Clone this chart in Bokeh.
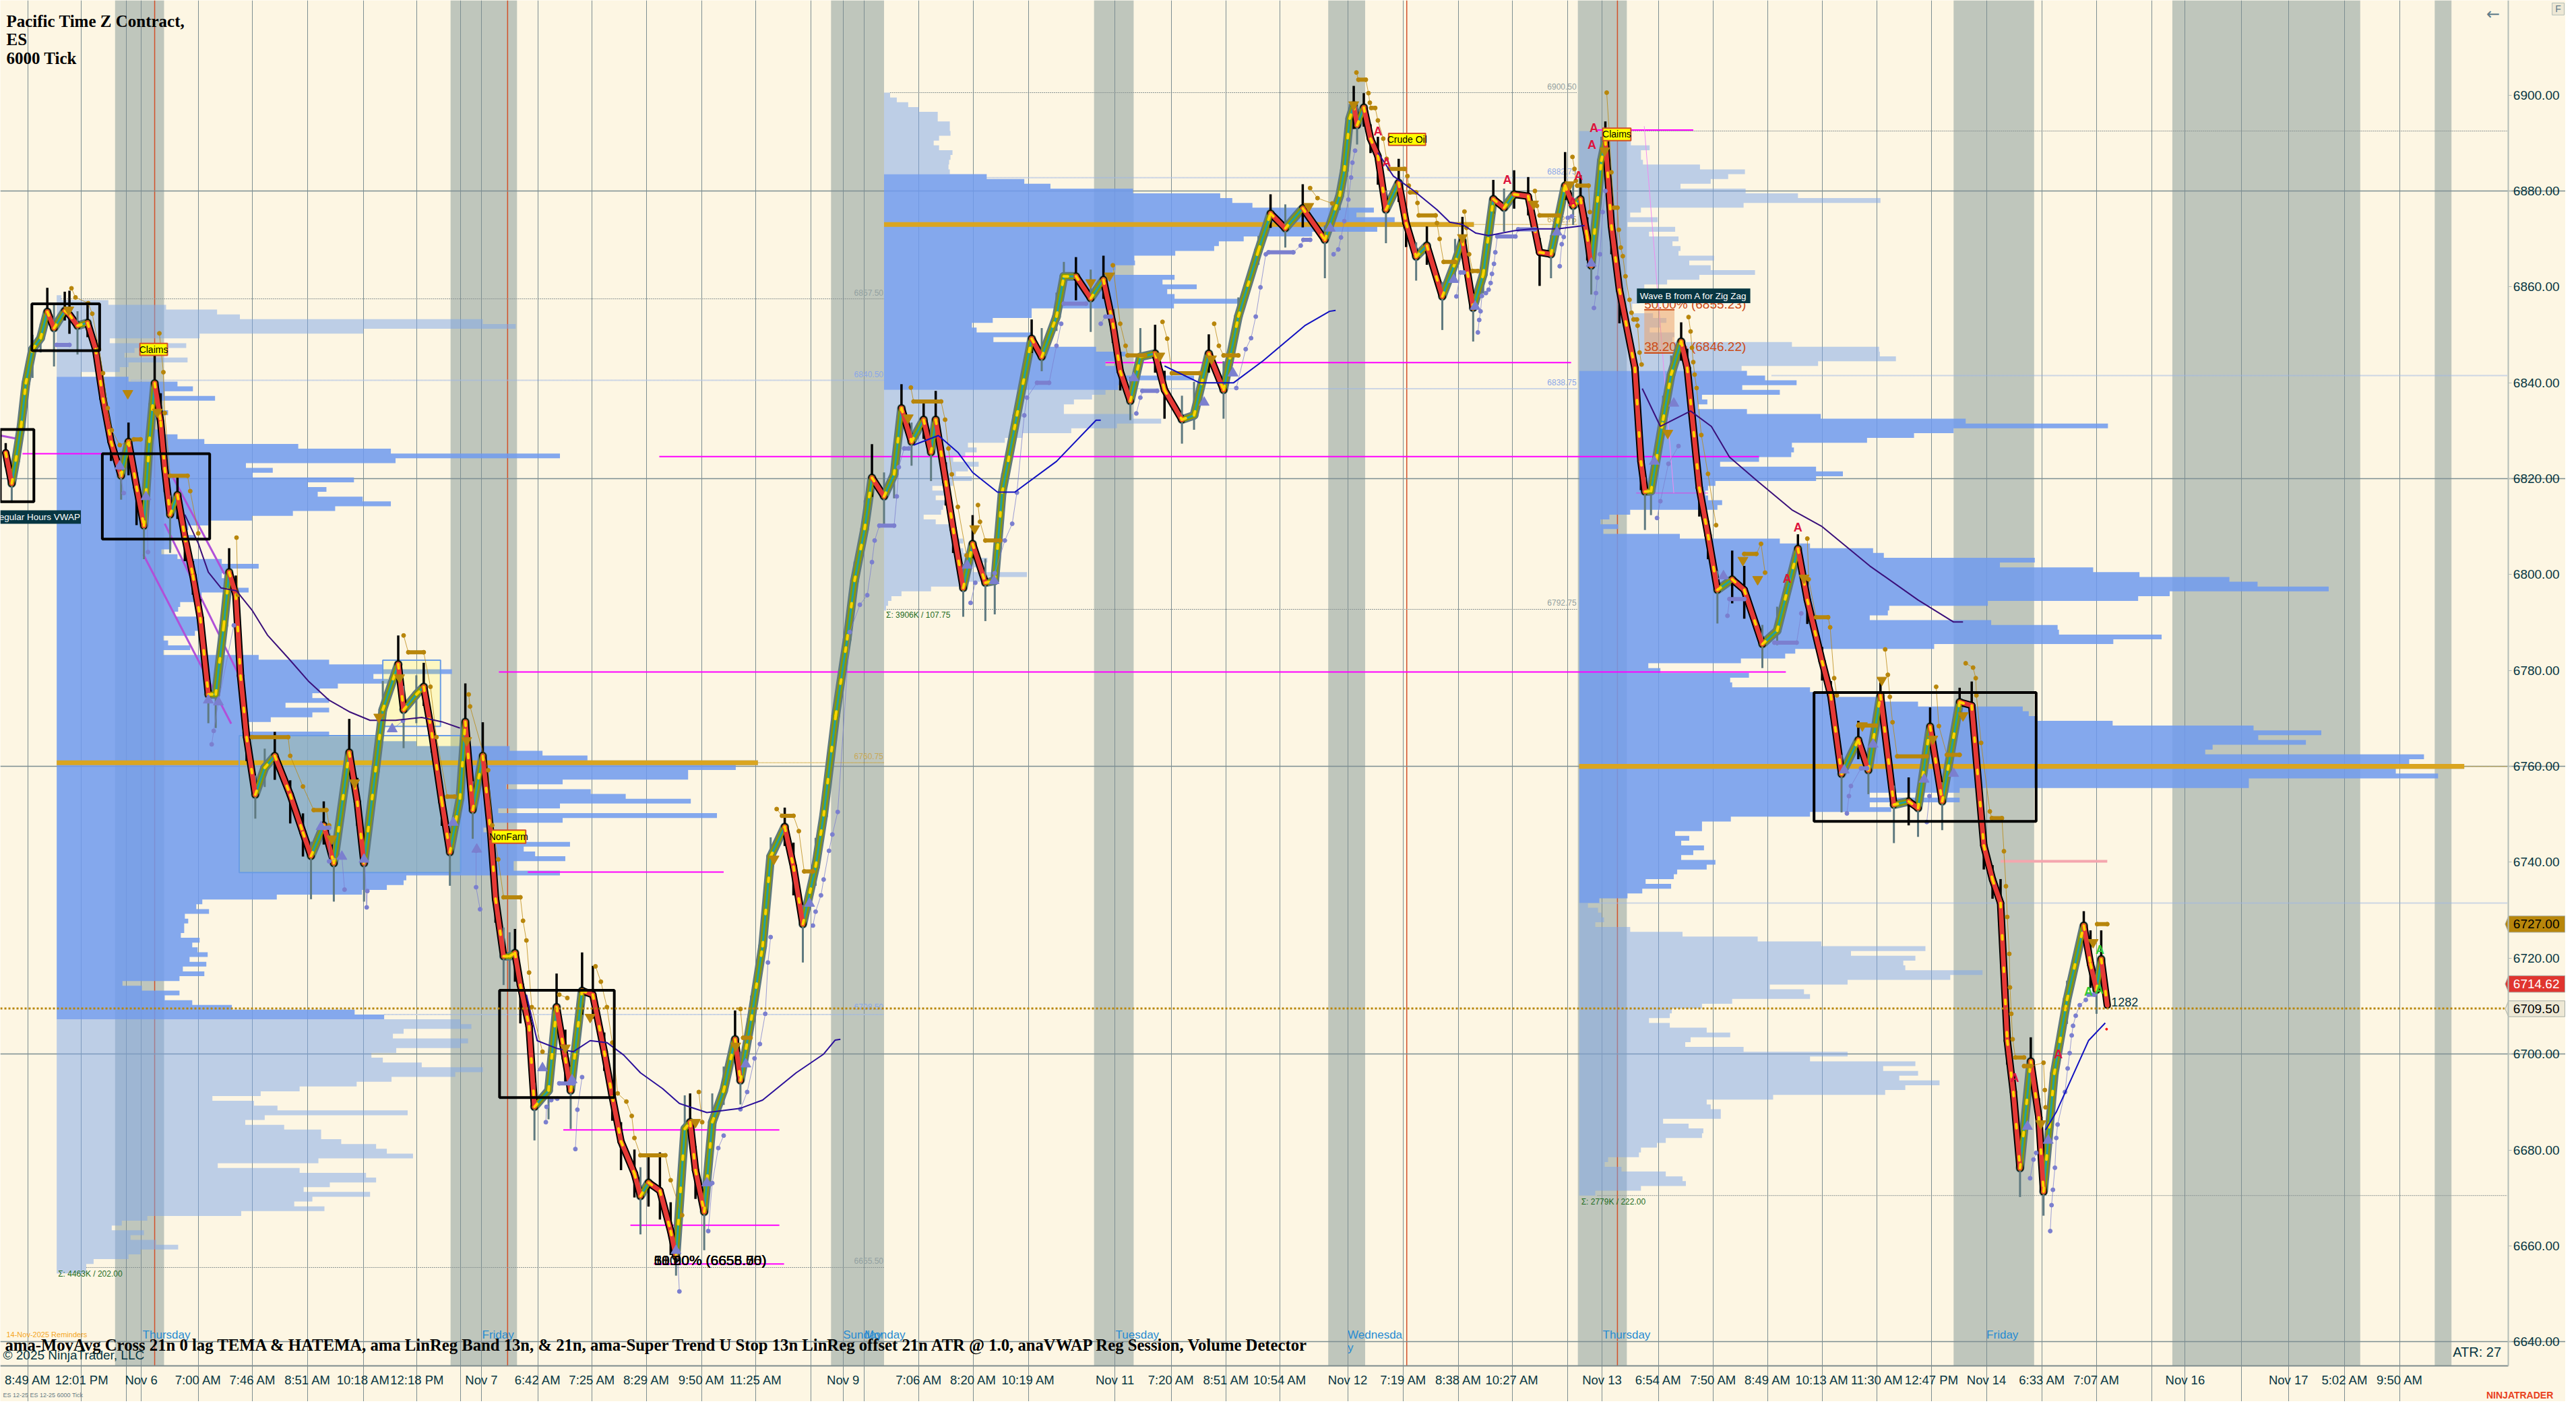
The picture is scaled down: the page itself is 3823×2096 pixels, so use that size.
from bokeh.plotting import figure
from bokeh.embed import file_html
from bokeh.resources import INLINE
from bokeh.core.properties import value
from bokeh.models import FixedTicker, Label, NumeralTickFormatter, Range1d

BG = "#FDF6E3"
INK = "#073642"
SANS = "Liberation Sans"
SERIF = "Liberation Serif"

# ---------- axes ----------
x_tick_labels = {
    41: "8:49 AM", 121: "12:01 PM", 210: "Nov 6", 295: "7:00 AM", 376: "7:46 AM", 458: "8:51 AM",
    541: "10:18 AM", 621: "12:18 PM", 717: "Nov 7", 801: "6:42 AM", 882: "7:25 AM", 963: "8:29 AM",
    1045: "9:50 AM", 1126: "11:25 AM", 1256: "Nov 9", 1369: "7:06 AM", 1450: "8:20 AM", 1532: "10:19 AM",
    1661: "Nov 11", 1745: "7:20 AM", 1827: "8:51 AM", 1907: "10:54 AM", 2008: "Nov 12", 2091: "7:19 AM",
    2173: "8:38 AM", 2253: "10:27 AM", 2387: "Nov 13", 2471: "6:54 AM", 2553: "7:50 AM", 2634: "8:49 AM",
    2715: "10:13 AM", 2797: "11:30 AM", 2878: "12:47 PM", 2960: "Nov 14", 3043: "6:33 AM", 3124: "7:07 AM",
    3256: "Nov 16", 3410: "Nov 17", 3494: "5:02 AM", 3576: "9:50 AM",
}
x_unlabelled_ticks = [188, 686, 1208, 1287, 2336, 3206, 3340]
y_label_ticks = [6640, 6660, 6680, 6700, 6720, 6740, 6760, 6780, 6800, 6820, 6840, 6860, 6880, 6900]
y_grid_ticks = [6640, 6700, 6760, 6820, 6880]
session_bands = [(171, 244), (671, 770), (1238, 1317), (1630, 1689), (1979, 2034), (2351, 2424),
                 (2911, 3031), (3237, 3517), (3628, 3653)]
event_lines = [230, 756, 2096, 2410]

# ---------- bars ----------
bar_x = [
    8, 17, 23, 31, 38, 48, 60, 70, 80, 96,
    103, 115, 130, 142, 153, 165, 180, 191, 203, 214,
    222, 230, 239, 245, 253, 264, 275, 287, 298, 310,
    321, 333, 341, 351, 358, 367, 380, 394, 409, 432,
    451, 463, 482, 497, 520, 532, 542, 559, 570, 593,
    601, 620, 631, 643, 658, 670, 685, 693, 704, 719,
    731, 738, 750, 759, 767, 775, 788, 796, 817, 829,
    842, 850, 867, 883, 900, 912, 925, 945, 954, 966,
    983, 999, 1007, 1020, 1028, 1036, 1049, 1061, 1078, 1095,
    1103, 1119, 1136, 1148, 1169, 1182, 1196, 1215, 1227, 1245,
    1262, 1273, 1288, 1299, 1317, 1332, 1343, 1358, 1376, 1387,
    1394, 1409, 1420, 1435, 1449, 1468, 1482, 1493, 1515, 1537,
    1552, 1574, 1585, 1603, 1625, 1644, 1658, 1669, 1684, 1699,
    1721, 1735, 1761, 1779, 1801, 1823, 1845, 1875, 1893, 1915,
    1941, 1974, 1996, 2003, 2011, 2017, 2022, 2032, 2042, 2053,
    2065, 2084, 2095, 2110, 2126, 2149, 2168, 2179, 2195, 2210,
    2225, 2241, 2256, 2277, 2294, 2311, 2332, 2344, 2355, 2365,
    2371, 2386, 2392, 2401, 2413, 2436, 2445, 2451, 2460, 2478,
    2490, 2505, 2514, 2532, 2545, 2559, 2581, 2599, 2626, 2648,
    2679, 2693, 2715, 2728, 2744, 2769, 2784, 2802, 2822, 2844,
    2858, 2876, 2894, 2920, 2938, 2956, 2969, 2981, 2991, 3000,
    3010, 3026, 3038, 3045, 3061, 3080, 3105, 3115, 3124, 3131,
    3140,
]
bar_close = [
    6825.4, 6819.0, 6823.8, 6831.0, 6839.9, 6847.0, 6849.3, 6854.8, 6851.4, 6855.0,
    6854.2, 6851.9, 6852.5, 6847.0, 6836.7, 6827.7, 6820.6, 6827.7, 6818.3, 6810.2,
    6827.7, 6839.9, 6831.8, 6822.2, 6812.5, 6816.6, 6807.8, 6799.8, 6790.9, 6775.0,
    6775.0, 6789.4, 6800.5, 6795.8, 6778.9, 6766.1, 6754.1, 6759.7, 6762.2, 6754.1,
    6746.2, 6741.3, 6747.7, 6739.8, 6762.9, 6752.6, 6739.8, 6759.0, 6771.8, 6781.3,
    6771.8, 6775.0, 6776.6, 6766.9, 6752.6, 6742.1, 6753.3, 6769.3, 6750.9, 6762.2,
    6745.8, 6732.4, 6720.4, 6720.4, 6721.1, 6714.4, 6705.8, 6689.0, 6692.4, 6709.8,
    6699.1, 6692.4, 6713.2, 6712.4, 6700.5, 6691.1, 6681.8, 6675.1, 6670.4, 6673.2,
    6671.5, 6663.1, 6657.8, 6684.4, 6685.8, 6675.8, 6667.1, 6685.8, 6692.4, 6703.1,
    6694.5, 6707.2, 6722.5, 6741.2, 6747.4, 6739.1, 6727.1, 6739.1, 6749.8, 6770.6,
    6786.5, 6798.7, 6809.5, 6820.2, 6816.3, 6820.9, 6834.7, 6827.7, 6832.3, 6825.5,
    6832.3, 6819.4, 6809.5, 6797.2, 6806.4, 6798.3, 6798.7, 6817.1, 6833.2, 6849.2,
    6845.4, 6853.8, 6862.2, 6862.2, 6857.6, 6861.5, 6852.3, 6842.4, 6836.2, 6845.4,
    6846.1, 6838.5, 6832.3, 6833.2, 6846.1, 6838.5, 6853.8, 6867.6, 6875.3, 6872.2,
    6876.4, 6869.8, 6879.0, 6884.3, 6895.1, 6897.9, 6893.7, 6897.4, 6890.9, 6887.3,
    6876.1, 6881.7, 6873.3, 6866.3, 6868.6, 6858.0, 6865.0, 6869.6, 6855.6, 6862.6,
    6878.3, 6876.5, 6879.3, 6878.9, 6867.2, 6866.8, 6881.1, 6876.9, 6878.3, 6870.5,
    6864.4, 6886.3, 6890.5, 6872.8, 6859.4, 6843.1, 6823.6, 6817.3, 6817.4, 6832.3,
    6841.7, 6848.6, 6843.1, 6818.1, 6808.2, 6796.8, 6799.0, 6796.8, 6785.5, 6788.3,
    6805.4, 6794.7, 6781.9, 6774.8, 6758.4, 6765.5, 6759.2, 6774.8, 6752.0, 6752.7,
    6751.3, 6768.3, 6752.7, 6773.4, 6772.7, 6743.5, 6736.4, 6731.5, 6702.8, 6692.1,
    6676.2, 6698.5, 6686.8, 6671.3, 6695.9, 6711.3, 6726.8, 6718.8, 6713.4, 6719.8,
    6710.2,
]
wick_up = [
    2, 3, 4, 4, 2, 3, 3, 5, 5, 4,
    5, 3, 4, 2, 3, 3, 5, 4, 3, 6,
    8, 7, 6, 3, 4, 4, 3, 3, 4, 3,
    5, 6, 5, 4, 3, 3, 4, 4, 5, 3,
    4, 3, 5, 4, 7, 5, 4, 5, 6, 6,
    5, 4, 5, 3, 3, 4, 6, 8, 6, 7,
    4, 3, 6, 5, 5, 3, 4, 5, 5, 7,
    6, 5, 8, 6, 4, 3, 4, 5, 6, 6,
    8, 6, 3, 7, 6, 5, 4, 6, 5, 6,
    6, 5, 5, 4, 4, 5, 4, 6, 5, 4,
    3, 4, 6, 7, 5, 5, 5, 4, 4, 5,
    6, 4, 3, 5, 6, 5, 4, 4, 3, 4,
    6, 5, 3, 4, 6, 5, 3, 4, 5, 6,
    6, 4, 5, 7, 4, 6, 4, 3, 4, 5,
    5, 3, 3, 5, 3, 4, 4, 3, 3, 4,
    4, 5, 3, 3, 4, 3, 5, 5, 3, 5,
    4, 4, 5, 4, 3, 4, 7, 5, 5, 4,
    4, 5, 4, 4, 3, 3, 4, 3, 3, 5,
    4, 4, 4, 3, 3, 4, 6, 5, 4, 5,
    3, 4, 3, 3, 4, 4, 4, 3, 4, 5,
    3, 4, 4, 3, 5, 4, 3, 5, 3, 3,
    4, 5, 4, 3, 3, 4, 3, 7, 4, 6,
    2,
]
wick_dn = [
    3, 4, 2, 2, 3, 6, 3, 2, 8, 2,
    4, 6, 3, 3, 3, 4, 5, 7, 8, 7,
    3, 2, 4, 5, 8, 5, 5, 4, 3, 6,
    7, 3, 2, 3, 4, 5, 5, 4, 5, 6,
    5, 9, 4, 8, 3, 5, 8, 3, 3, 3,
    8, 6, 4, 4, 5, 7, 4, 3, 6, 4,
    5, 5, 6, 7, 6, 8, 5, 7, 6, 3,
    5, 8, 5, 5, 4, 5, 6, 5, 8, 5,
    6, 5, 4, 3, 4, 6, 8, 3, 3, 3,
    5, 3, 3, 3, 4, 6, 8, 4, 3, 3,
    3, 3, 3, 4, 6, 5, 3, 5, 4, 6,
    4, 5, 5, 6, 3, 8, 7, 3, 3, 3,
    3, 3, 3, 5, 7, 4, 4, 4, 4, 3,
    4, 6, 5, 3, 4, 6, 3, 3, 3, 4,
    4, 8, 3, 3, 3, 5, 4, 4, 3, 6,
    7, 4, 5, 5, 4, 7, 4, 3, 7, 4,
    3, 5, 3, 4, 7, 5, 3, 4, 3, 5,
    6, 3, 5, 6, 7, 5, 6, 8, 5, 3,
    3, 4, 4, 6, 5, 7, 5, 6, 5, 3,
    3, 5, 4, 4, 8, 4, 5, 3, 8, 5,
    6, 3, 6, 3, 4, 5, 4, 4, 5, 4,
    6, 3, 5, 5, 2, 5, 3, 5, 5, 3,
    4,
]

# ---------- volume profiles: right end of each 1-point row, top to bottom ----------
p1_top, p2_top, p3_top = 6858.25, 6900.5, 6892.5
p1_x0, p2_x0, p3_x0 = 84, 1317, 2353
p1_upper = [91, 161, 247, 323, 357, 719, 768, 541, 297, 163, 277, 200, 185, 279, 191, 178, 120]
p1_value = [
    191, 264, 287, 245, 320, 237, 225, 250, 237, 225, 222, 237, 264, 304, 444, 582, 834, 589, 366, 406,
    376, 527, 458, 486, 473, 540, 582, 499, 436, 375, 310, 280, 270, 290, 255, 255, 240, 264, 330, 385,
    337, 330, 340, 350, 370, 300, 295, 268, 265, 260, 298, 298, 298, 290, 243, 250, 283, 243, 385, 490,
    570, 673, 556, 578, 503, 476, 465, 490, 425, 490, 465, 403, 360, 360, 490, 560, 620, 759, 808, 875,
    1129, 1096, 1025, 1025, 838, 754, 880, 932, 1029, 834, 742, 1068, 838, 735, 720, 780, 780, 849, 780, 797,
    842, 765, 765, 834, 605, 601, 576, 539, 412, 301, 292, 311, 275, 280, 274, 274, 269, 297, 286, 294,
    309, 282, 307, 272, 304, 267, 182, 211, 267, 245, 286, 345, 528, 572,
]
p1_lower = [
    686, 702, 601, 585, 697, 686, 590, 553, 570, 628, 719, 678, 583, 531, 446, 388, 316, 378, 413, 607,
    394, 365, 423, 478, 478, 508, 560, 576, 615, 474, 324, 446, 545, 560, 491, 452, 551, 465, 438, 483,
    359, 219, 181, 166, 214, 194, 232, 265, 209, 191, 139, 128, 128,
]
p2_upper = [1326, 1336, 1353, 1369, 1397, 1397, 1415, 1415, 1416, 1399, 1391, 1399, 1419, 1416, 1414, 1413, 1415]
p2_value = [
    1470, 1526, 1565, 1688, 1818, 1836, 1866, 2047, 2021, 2078, 2196, 2052, 1955, 1853, 1816, 1809, 1751, 1690, 1691, 1662,
    1658, 1750, 1732, 1783, 1739, 1750, 1854, 1749, 1537, 1537, 1479, 1448, 1455, 1536, 1480, 1536, 1633, 1677, 1669, 1647,
    1669, 1666, 1779, 1669, 1666,
]
p2_lower = [
    1647, 1627, 1600, 1585, 1585, 1688, 1730, 1664, 1596, 1523, 1497, 1442, 1455, 1438, 1420, 1458, 1442, 1424, 1448, 1420,
    1389, 1409, 1394, 1408, 1405, 1402, 1376, 1394, 1420, 1416, 1424, 1435, 1420, 1435, 1460, 1471, 1464, 1449, 1530, 1471,
    1431, 1387, 1343, 1328, 1323, 1320,
]
p3_upper = [
    2430, 2431, 2430, 2458, 2445, 2445, 2448, 2533, 2600, 2575, 2549, 2504, 2601, 2679, 2802, 2598, 2445, 2429, 2470, 2425,
    2496, 2457, 2501, 2492, 2504, 2501, 2554, 2517, 2549, 2615, 2532, 2484, 2450, 2450, 2443, 2443, 2432, 2432, 2463, 2483,
    2474, 2458, 2495, 2492, 2670, 2800, 2801, 2825, 2709, 2595,
]
p3_value = [
    2603, 2630, 2677, 2596, 2652, 2536, 2544, 2530, 2603, 2713, 2929, 3141, 2911, 2852, 2782, 2670, 2673, 2669, 2621, 2563,
    2706, 2746, 2706, 2556, 2545, 2541, 2545, 2566, 2559, 2429, 2398, 2385, 2411, 2389, 2503, 2652, 2697, 2791, 2807, 3032,
    2980, 3119, 3188, 3322, 3364, 3470, 3233, 3186, 2962, 2815, 2813, 2786, 2967, 3066, 3068, 3221, 3149, 2882, 2675, 2660,
    2594, 2456, 2474, 2606, 2578, 2581, 2697, 2724, 2804, 2858, 3014, 3023, 3036, 3148, 3358, 3459, 3365, 3436, 3297, 3286,
    3612, 3590, 3672, 3570, 3633, 3351, 3351, 2920, 2786, 2920, 2786, 2818, 2697, 2579, 2536, 2536, 2496, 2517, 2505, 2539,
    2523, 2505, 2556, 2543, 2499, 2494, 2452, 2490, 2447, 2425, 2383,
]
p3_lower = [
    2366, 2381, 2386, 2390, 2377, 2429, 2507, 2619, 2714, 2869, 2758, 2854, 2836, 2839, 2954, 2906, 2753, 2637, 2688, 2697,
    2581, 2536, 2491, 2488, 2457, 2488, 2543, 2578, 2519, 2511, 2598, 2753, 2697, 2854, 2806, 2858, 2830, 2890, 2839, 2809,
    2642, 2543, 2549, 2564, 2564, 2478, 2516, 2538, 2536, 2482, 2469, 2445, 2442, 2396, 2391, 2416, 2482, 2507, 2512, 2445,
    2377,
]
poc_price = [6760.75, 6873.0, 6760.0]
poc_x0 = [84, 1317, 2353]
poc_x1 = [1129, 2196, 3672]

# ---------- profile level lines: price, from, to ----------
grey_levels = [(6857.5, 90, 1317), (6655.5, 128, 1317), (6900.5, 1326, 2350), (6792.75, 1321, 2350),
               (6892.5, 2430, 3736), (6670.5, 2380, 3736)]
blue_levels = [(6840.5, 195, 1317), (6708.25, 572, 1317), (6882.75, 1470, 2350), (6838.75, 1666, 2350),
               (6841.5, 2640, 3736), (6731.5, 2383, 3736)]
gold_levels = [(6760.75, 1129, 1317), (6873.0, 2196, 2350), (6760.0, 3672, 3736)]
level_text = [("6857.50", 1316, 6858.2, "#93A1A1"), ("6840.50", 1316, 6841.2, "#8AA6E8"),
              ("6760.75", 1316, 6761.5, "#C8A858"), ("6708.50", 1316, 6709.2, "#8AA6E8"),
              ("6655.50", 1316, 6656.2, "#93A1A1"), ("6900.50", 2349, 6901.2, "#93A1A1"),
              ("6882.75", 2349, 6883.5, "#8AA6E8"), ("6872.75", 2349, 6873.5, "#C8A858"),
              ("6838.75", 2349, 6839.5, "#8AA6E8"), ("6792.75", 2349, 6793.5, "#93A1A1")]
sigma_text = [("Σ: 4463K / 202.00", 86, 6654.1), ("Σ: 3906K / 107.75", 1320, 6791.5), ("Σ: 2779K / 222.00", 2356, 6669.2)]
last_price_dotted = 6709.5

# ---------- drawn objects ----------
black_boxes = [(47, 148, 6856.45, 6846.7), (152, 312, 6825.2, 6807.4), (0, 50, 6830.25, 6815.2),
               (744, 915, 6713.3, 6690.95), (2703, 3034, 6775.4, 6748.55)]
value_boxes = [(356, 686, 6766.4, 6737.85), (570, 656, 6782.15, 6768.35)]
magenta_levels = [(6825.2, 33, 170), (6824.6, 982, 2621), (6779.7, 743, 2661), (6737.95, 786, 1078),
                  (6684.2, 839, 1161), (6664.3, 939, 1161), (6656.25, 974, 1168), (6844.2, 1647, 2341),
                  (6892.7, 2380, 2523)]
magenta_thin = (6817.0, 2438, 2545)
pink_level = (6740.2, 2981, 3140)
purple_trends = [(213, 6804.2, 344, 6768.9), (245, 6810.6, 356, 6778.9), (256, 6820.6, 334, 6800.1), (0, 6829.0, 30, 6828.2)]
thin_diag = (2450, 6893.5, 2494, 6817.0)

vwap_x = [
    [275, 295, 310, 329, 352, 375, 398, 429, 459, 490, 520, 551, 589, 628, 658, 685],
    [784, 800, 829, 854, 879, 904, 929, 954, 987, 1012, 1053, 1103, 1136, 1186, 1227, 1244, 1252],
    [1361, 1398, 1427, 1449, 1486, 1512, 1574, 1633, 1640],
    [1735, 1787, 1838, 1882, 1944, 1981, 1990],
    [2053, 2076, 2107, 2141, 2160, 2179, 2199, 2218, 2256, 2283, 2321, 2361],
    [2447, 2474, 2519, 2550, 2577, 2617, 2670, 2715, 2786, 2858, 2911, 2925],
    [3048, 3064, 3086, 3112, 3137],
]
vwap_y = [
    [6812.5, 6806.5, 6800.5, 6797.2, 6796.6, 6792.6, 6787.4, 6782.6, 6777.8, 6773.8, 6771.4, 6769.6, 6769.6, 6770.2, 6769.3, 6768.0],
    [6712.4, 6702.8, 6701.2, 6700.5, 6702.8, 6702.4, 6699.8, 6696.1, 6692.8, 6689.7, 6687.8, 6688.7, 6690.4, 6696.1, 6700.0, 6702.9, 6703.1],
    [6827.0, 6829.0, 6825.5, 6821.3, 6817.2, 6817.2, 6823.6, 6832.2, 6832.2],
    [6843.5, 6840.0, 6840.0, 6844.6, 6851.9, 6854.9, 6855.1],
    [6888.0, 6883.1, 6880.0, 6876.1, 6873.5, 6873.0, 6871.2, 6870.7, 6871.7, 6872.1, 6872.1, 6872.8],
    [6838.8, 6830.9, 6834.1, 6830.9, 6824.5, 6819.7, 6813.5, 6810.0, 6801.8, 6794.7, 6790.1, 6790.1],
    [6684.2, 6687.9, 6694.7, 6702.8, 6706.5],
]
vwap_color = ["#3A0F7A", "#2A0F9A", "#1010C0", "#1010C0", "#2A0F9A", "#3A0F7A", "#1010C0"]

gold_x = [
    [106, 112, 131, 137, 147, 153, 160, 166, 178, 199, 209],
    [237, 243, 245, 253, 279, 283, 295],
    [352, 354],
    [375, 429, 432, 451, 467, 486, 490],
    [601, 608, 631, 641, 650, 666, 677],
    [698, 700, 727, 733, 742, 750, 775, 779, 784, 788, 792, 808],
    [833, 845],
    [887, 895, 904, 912, 920, 933, 941, 945, 954, 991, 999, 1016],
    [1041, 1046],
    [1103, 1107, 1118],
    [1157, 1165, 1182, 1190, 1198, 1211],
    [1357, 1361, 1402, 1408, 1413, 1418, 1427, 1440],
    [1457, 1460, 1468, 1490],
    [1658, 1669, 1677, 1680, 1706],
    [1732, 1739, 1746, 1787],
    [1809, 1816, 1823, 1845],
    [1952, 1963, 1985],
    [2021, 2024, 2035, 2039, 2041, 2043, 2049, 2053, 2061, 2066, 2070, 2093, 2097, 2099, 2101, 2110, 2112, 2114, 2139, 2141, 2145, 2151, 2168],
    [2182, 2185, 2189, 2194, 2202],
    [2287, 2290, 2294, 2323],
    [2343, 2346, 2348, 2350, 2367, 2369],
    [2394, 2398, 2401, 2405, 2410, 2412, 2415, 2418, 2422, 2428, 2431, 2434, 2439, 2440, 2443, 2446],
    [2516, 2519, 2521, 2523, 2525, 2528, 2535, 2545, 2557],
    [2599, 2617, 2624, 2630],
    [2693, 2695, 2706, 2724, 2727, 2733, 2737],
    [2769, 2795],
    [2809, 2813, 2816, 2820, 2827, 2871],
    [2885, 2889, 2901, 2920],
    [2929, 2940, 2944, 2945, 2952, 2965, 2968, 2983, 2986, 2989, 2991, 2994, 2995, 2997, 2999, 3003, 3016],
    [3016, 3026, 3045, 3047, 3048],
    [3125, 3140],
]
gold_y = [
    [6859.7, 6857.8, 6856.6, 6854.4, 6847.0, 6842.0, 6834.7, 6830.1, 6827.0, 6828.2, 6828.2],
    [6850.3, 6842.2, 6833.7, 6820.6, 6820.6, 6817.4, 6808.6],
    [6807.7, 6795.8],
    [6766.1, 6766.1, 6762.2, 6755.8, 6750.9, 6750.9, 6747.7],
    [6787.3, 6783.8, 6783.8, 6776.6, 6766.1, 6753.7, 6753.7],
    [6775.0, 6772.5, 6759.2, 6747.7, 6740.6, 6732.7, 6732.7, 6727.8, 6723.7, 6717.0, 6709.8, 6700.5],
    [6712.4, 6711.7],
    [6718.3, 6715.1, 6709.8, 6702.4, 6691.8, 6690.1, 6687.1, 6682.5, 6678.9, 6678.9, 6673.7, 6666.4],
    [6692.1, 6685.8],
    [6709.4, 6703.4, 6703.4],
    [6751.1, 6749.7, 6749.7, 6746.5, 6738.1, 6738.1],
    [6839.0, 6836.1, 6836.1, 6832.3, 6826.3, 6820.9, 6814.1, 6804.0],
    [6814.5, 6811.0, 6807.1, 6807.1],
    [6864.5, 6852.3, 6847.7, 6845.7, 6845.7],
    [6852.7, 6849.2, 6842.0, 6842.0],
    [6852.3, 6847.7, 6845.7, 6845.7],
    [6880.6, 6878.5, 6877.4],
    [6904.7, 6903.2, 6903.2, 6900.4, 6898.4, 6897.3, 6897.3, 6894.7, 6890.9, 6886.7, 6884.6, 6884.6, 6883.1, 6881.1, 6879.7, 6879.7, 6877.5, 6874.9, 6874.9, 6873.3, 6870.0, 6865.2, 6865.2],
    [6875.7, 6872.3, 6866.8, 6863.3, 6863.3],
    [6880.0, 6876.9, 6874.9, 6874.9],
    [6887.1, 6884.6, 6882.1, 6881.1, 6881.1, 6875.6],
    [6900.5, 6891.9, 6883.9, 6876.5, 6876.5, 6871.9, 6868.2, 6866.4, 6862.2, 6857.3, 6854.6, 6853.2, 6853.2, 6851.9, 6846.3, 6843.8],
    [6853.7, 6850.7, 6847.3, 6844.3, 6841.7, 6838.9, 6829.1, 6821.0, 6810.3],
    [6804.3, 6804.3, 6806.4, 6800.4],
    [6807.5, 6799.0, 6791.1, 6791.1, 6789.0, 6778.4, 6774.8],
    [6768.5, 6768.5],
    [6784.4, 6779.1, 6774.5, 6769.2, 6762.1, 6762.1],
    [6776.6, 6768.4, 6762.4, 6762.4],
    [6781.5, 6780.6, 6778.4, 6774.8, 6764.9, 6750.6, 6749.2, 6749.2, 6742.3, 6735.0, 6728.6, 6720.9, 6713.9, 6708.4, 6703.1, 6699.3, 6699.3],
    [6697.5, 6697.5, 6698.2, 6692.5, 6688.9],
    [6727.1, 6727.1],
]
peri_x = [
    [84, 103], [176, 184], [218, 220], [315, 318, 325, 348], [478, 490, 490, 509, 513], [543, 546, 547],
    [585, 600], [709, 709, 715], [813, 814, 821, 830], [833, 854], [857, 860, 867], [1009, 1012],
    [1055, 1061, 1070, 1078],
    [1103, 1113, 1124, 1132, 1140, 1144, 1148],
    [1211, 1215, 1223, 1227, 1235, 1240, 1248, 1266, 1281, 1292, 1299, 1303, 1310, 1332, 1336, 1339, 1347, 1354],
    [1446, 1453],
    [1482, 1497, 1508, 1515, 1526, 1530, 1545, 1563, 1574, 1581],
    [1585, 1618], [1640, 1647, 1655], [1693, 1699, 1702, 1724],
    [1842, 1856, 1864, 1871, 1878, 1886, 1890, 1927, 1938, 1942, 1952],
    [1987, 1994, 1998, 2003, 2009, 2013, 2015, 2019],
    [2170, 2176, 2181],
    [2202, 2204, 2206, 2208, 2214, 2218, 2221, 2223, 2226, 2228, 2231, 2258, 2262, 2287],
    [2324, 2327, 2330, 2336, 2342],
    [2375, 2378, 2380, 2384, 2388, 2392],
    [2469, 2474, 2486, 2501],
    [2574, 2577, 2599],
    [2644, 2677, 2684],
    [2752, 2755, 2758, 2773, 2782],
    [2871, 2875],
    [3025, 3030, 3034],
    [3055, 3057, 3059, 3062, 3064, 3066, 3077, 3081, 3084, 3087, 3089, 3093, 3099, 3108, 3112, 3121],
]
peri_y = [
    [6847.9, 6847.9], [6822.6, 6817.0], [6816.2, 6804.7], [6764.6, 6767.4, 6773.4, 6789.4], [6747.2, 6747.2, 6740.2, 6741.3, 6734.3], [6740.6, 6730.6, 6734.0],
    [6767.8, 6769.5], [6742.4, 6734.8, 6730.2], [6685.8, 6689.0, 6690.4, 6690.7], [6693.9, 6693.9], [6680.2, 6688.4, 6695.2], [6659.0, 6650.5],
    [6663.1, 6673.1, 6680.4, 6683.0],
    [6688.5, 6692.1, 6699.1, 6702.1, 6708.4, 6719.1, 6724.4],
    [6726.8, 6729.7, 6733.1, 6736.4, 6742.4, 6745.8, 6750.5, 6788.0, 6793.7, 6795.7, 6802.6, 6807.1, 6810.2, 6810.2, 6816.3, 6822.4, 6826.3, 6826.3],
    [6794.1, 6798.3],
    [6800.3, 6807.1, 6810.6, 6817.1, 6833.2, 6836.9, 6840.0, 6840.0, 6847.7, 6852.3],
    [6856.5, 6856.5], [6852.3, 6853.8, 6853.8], [6833.6, 6836.9, 6838.3, 6838.3],
    [6838.9, 6847.0, 6849.3, 6853.8, 6859.9, 6866.8, 6867.2, 6867.2, 6868.6, 6869.8, 6869.8],
    [6866.8, 6867.8, 6870.3, 6873.7, 6878.2, 6882.8, 6885.9, 6888.4],
    [6858.0, 6863.0, 6863.0],
    [6850.5, 6853.1, 6854.9, 6858.1, 6858.7, 6859.4, 6860.8, 6862.7, 6864.8, 6867.2, 6870.5, 6870.5, 6872.0, 6872.0],
    [6864.3, 6868.9, 6870.4, 6874.4, 6874.7],
    [6855.6, 6858.7, 6861.9, 6866.8, 6875.6, 6880.0],
    [6811.8, 6815.3, 6823.1, 6826.8],
    [6791.4, 6794.9, 6794.9],
    [6785.8, 6785.8, 6791.9],
    [6750.2, 6753.8, 6755.9, 6759.6, 6759.6],
    [6748.4, 6753.8],
    [6674.1, 6678.0, 6679.4],
    [6663.1, 6668.5, 6671.7, 6676.3, 6682.5, 6685.3, 6692.1, 6697.0, 6700.2, 6703.9, 6705.9, 6708.0, 6710.2, 6711.3, 6712.4, 6712.4],
]
sell_x = [102, 190, 234, 494, 528, 564, 595, 695, 842, 879, 1036, 1096, 1153, 1353, 1452, 1625, 1653, 1728, 1805, 1950, 2017, 2179, 2285, 2339, 2391, 2485, 2597, 2619, 2688, 2775, 2804, 2880, 2925, 3041, 3119]
sell_y = [6855.2, 6837.8, 6833.9, 6744.9, 6756.6, 6770.3, 6778.5, 6765.4, 6701.3, 6707.7, 6685.8, 6701.7, 6740.7, 6832.7, 6809.6, 6860.9, 6862.3, 6845.6, 6845.0, 6876.8, 6898.0, 6870.3, 6877.3, 6881.3, 6888.4, 6829.5, 6803.0, 6799.0, 6799.3, 6768.5, 6778.0, 6765.7, 6770.6, 6685.5, 6723.3]
buy_x = [178, 217, 310, 325, 478, 509, 542, 584, 675, 710, 808, 852, 1007, 1053, 1111, 1206, 1441, 1481, 1689, 1794, 1837, 1982, 2166, 2198, 2320, 2371, 2465, 2494, 2568, 2748, 2791, 2867, 2911, 3021, 3052]
buy_y = [6822.6, 6816.2, 6773.8, 6773.4, 6747.4, 6741.2, 6740.6, 6767.8, 6748.3, 6742.7, 6697.1, 6694.6, 6659.0, 6673.1, 6697.9, 6731.4, 6801.9, 6798.7, 6841.0, 6835.9, 6842.0, 6872.2, 6861.5, 6855.9, 6871.4, 6864.9, 6823.6, 6835.7, 6799.7, 6759.2, 6764.6, 6757.3, 6758.5, 6684.9, 6682.0]
alert_red_x = [2053, 2066, 2246, 2352, 2375, 2372, 2343, 2679, 2663, 3067, 3002]
alert_red_y = [6892.4, 6885.9, 6882.25, 6883.2, 6893.1, 6889.6, 6877.65, 6809.75, 6799.2, 6699.9, 6695.0]
alert_green_x = [3129, 3112, 3128]
alert_green_y = [6721.8, 6713.0, 6713.4]
events = [("Claims", 208, 249, 6848.2, 6845.7), ("Crude Oil", 2069, 2124, 6892.0, 6889.5),
          ("Claims", 2388, 2430, 6893.1, 6890.5), ("NonFarm", 732, 783, 6746.7, 6743.95)]
fib_zone = (2450, 2495, 6855.23, 6846.22)
fib_text = [("50.00% (6855.23)", 6856.4), ("38.20% (6846.22)", 6847.5)]
stacked_fib = ["61.80% (6655.50)", "38.20% (6658.75)", "100.0% (6655.00)", "50.00% (6656.50)"]
dark_notes = [("Wave B from A for Zig Zag", 2439, 2608, 6859.66, 6856.6, "center"),
              ("egular Hours VWAP", 0, 120, 6813.4, 6810.6, "right")]
day_labels = [("Thursday", 212), ("Friday", 718), ("Sunday", 1256), ("Monday", 1288), ("Tuesday", 1662),
              ("Wednesda", 2008), ("Thursday", 2388), ("Friday", 2960)]
# text, price, top, bottom, fill, text colour
price_badges = [("6727.00", 6727.1, 6728.8, 6725.4, "#B8860B", "#000000"),
                ("6714.62", 6714.62, 6716.35, 6712.9, "#E0352F", "#FFFFFF"),
                ("6709.50", 6709.4, 6711.1, 6707.8, "#EEE8D5", "#000000")]
title_lines = [("Pacific Time Z Contract,", 6915.43), ("ES", 6911.66), ("6000 Tick", 6907.62)]

# ---------- figure: whole picture is the frame, axes sit inside it at fixed locations ----------
X_AXIS_AT, Y_AXIS_AT = 6634.93, 3738
Y_TOP = 6919.75
p = figure(width=3807, height=2080, output_backend="svg", toolbar_location=None,
           x_range=Range1d(0, 3823), y_range=Range1d(6627.54, Y_TOP),
           background_fill_color=BG, border_fill_color=BG, outline_line_color=None,
           min_border_left=0, min_border_top=0, min_border_right=0, min_border_bottom=0,
           y_axis_location="right")

xa = p.xaxis[0]
all_x_ticks = sorted(list(x_tick_labels) + x_unlabelled_ticks)
xa.fixed_location = X_AXIS_AT
xa.bounds = (0, Y_AXIS_AT)
xa.ticker = FixedTicker(ticks=all_x_ticks)
xa.major_label_overrides = {**{t: "" for t in x_unlabelled_ticks}, **x_tick_labels}
xa.axis_line_color = "#7F8C8D"
xa.axis_line_width = 2
xa.major_tick_line_color = "#7F8C8D"
xa.major_tick_out = 6
xa.major_tick_in = 0
xa.minor_tick_line_color = None
xa.major_label_text_font = SANS
xa.major_label_text_font_size = "18.5px"
xa.major_label_text_color = INK
xa.major_label_standoff = 4

ya = p.yaxis[0]
ya.fixed_location = Y_AXIS_AT
ya.bounds = (X_AXIS_AT, Y_TOP)
ya.ticker = FixedTicker(ticks=y_label_ticks)
ya.formatter = NumeralTickFormatter(format="0.00")
ya.axis_line_color = "#B3BDB7"
ya.axis_line_width = 2
ya.major_tick_line_color = "#B3BDB7"
ya.major_tick_out = 5
ya.major_tick_in = 0
ya.minor_tick_line_color = None
ya.major_label_text_font = SANS
ya.major_label_text_font_size = "19px"
ya.major_label_text_color = INK
ya.major_label_standoff = 2

GRID = "#7D8E92"
p.xgrid.ticker = FixedTicker(ticks=all_x_ticks)
p.xgrid.grid_line_color = GRID
p.xgrid.grid_line_width = 1
p.xgrid.bounds = (X_AXIS_AT, Y_TOP)
p.ygrid.ticker = FixedTicker(ticks=y_grid_ticks)
p.ygrid.grid_line_color = GRID
p.ygrid.grid_line_width = 1.5
p.ygrid.bounds = (0, Y_AXIS_AT)

p.quad(left=[b[0] for b in session_bands], right=[b[1] for b in session_bands],
       top=Y_TOP, bottom=X_AXIS_AT, fill_color="#BFC6BC", line_color=None, level="image")
p.segment(x0=event_lines, x1=event_lines, y0=[X_AXIS_AT] * len(event_lines), y1=[Y_TOP] * len(event_lines),
          line_color="#D2512A", line_width=1.5, level="underlay")


def profile(rows, top, x0, color, alpha):
    xs, ys = [x0], [top]
    for i, r in enumerate(rows):
        xs += [r, r]
        ys += [top - i, top - i - 1]
    xs.append(x0)
    ys.append(top - len(rows))
    p.patch(x=xs, y=ys, fill_color=color, fill_alpha=alpha, line_color=None)


LIGHT, DARK = "#7DA6E9", "#6F9AEE"
for up, val, low, top, x0 in ((p1_upper, p1_value, p1_lower, p1_top, p1_x0),
                              (p2_upper, p2_value, p2_lower, p2_top, p2_x0),
                              (p3_upper, p3_value, p3_lower, p3_top, p3_x0)):
    profile(up, top, x0, LIGHT, 0.5)
    profile(val, top - len(up), x0, DARK, 0.85)
    profile(low, top - len(up) - len(val), x0, LIGHT, 0.5)
p.quad(left=poc_x0, right=poc_x1, top=[v + 0.5 for v in poc_price], bottom=[v - 0.5 for v in poc_price],
       fill_color="#DAA520", line_color=None)


def levels(rows, color, dash, width):
    p.segment(x0=[r[1] for r in rows], x1=[r[2] for r in rows], y0=[r[0] for r in rows], y1=[r[0] for r in rows],
              line_color=color, line_dash=dash, line_width=width)


levels(grey_levels, "#8A9494", "2 1", 1)
levels(blue_levels, "#9DB6E6", "1 1", 2)
levels(gold_levels, "#C8A030", "1 1", 1.5)
p.text(x=[t[1] for t in level_text], y=[t[2] for t in level_text], text=[t[0] for t in level_text],
       text_color=[t[3] for t in level_text], text_font=value(SANS), text_font_size="12px",
       text_align="right", text_baseline="bottom")
p.text(x=[t[1] for t in sigma_text], y=[t[2] for t in sigma_text], text=[t[0] for t in sigma_text],
       text_color="#1E6B1E", text_font=value(SANS), text_font_size="12px", text_align="left", text_baseline="middle")

p.quad(left=[b[0] for b in value_boxes], right=[b[1] for b in value_boxes],
       top=[b[2] for b in value_boxes], bottom=[b[3] for b in value_boxes],
       fill_color="#FFFF00", fill_alpha=0.15, line_color="#6A9CE5", line_width=2)
levels(magenta_levels, "#FF00FF", "solid", 2)
levels([magenta_thin], "#E040E0", "solid", 1)
levels([pink_level], "#F4A6AE", "solid", 4)
p.segment(x0=[t[0] for t in purple_trends], y0=[t[1] for t in purple_trends],
          x1=[t[2] for t in purple_trends], y1=[t[3] for t in purple_trends],
          line_color="#B050D8", line_width=3)
p.segment(x0=[thin_diag[0]], y0=[thin_diag[1]], x1=[thin_diag[2]], y1=[thin_diag[3]], line_color="#F08CF0", line_width=1)

# fib zone
p.quad(left=[fib_zone[0]], right=[fib_zone[1]], top=[fib_zone[2]], bottom=[fib_zone[3]],
       fill_color="#EBA46E", fill_alpha=0.55, line_color=None)
p.segment(x0=[fib_zone[0]] * 2, x1=[fib_zone[1]] * 2, y0=list(fib_zone[2:]), y1=list(fib_zone[2:]),
          line_color="#CB4B16", line_width=2)
p.text(x=[fib_zone[0]] * 2, y=[t[1] for t in fib_text], text=[t[0] for t in fib_text], text_color="#CB4B16",
       text_font=value(SANS), text_font_size="19px", text_align="left", text_baseline="middle")

# candles
ups = [i for i in range(len(bar_close) - 1) if bar_close[i + 1] >= bar_close[i]]
downs = [i for i in range(len(bar_close) - 1) if bar_close[i + 1] < bar_close[i]]
hi = [c + u for c, u in zip(bar_close, wick_up)]
lo = [c - d for c, d in zip(bar_close, wick_dn)]


def legs(idx, color, width, dash="solid"):
    p.segment(x0=[bar_x[i] for i in idx], x1=[bar_x[i + 1] for i in idx],
              y0=[bar_close[i] for i in idx], y1=[bar_close[i + 1] for i in idx],
              line_color=color, line_width=width, line_dash=dash, line_cap="round")


legs(ups, "#5F7A80", 13)
legs(downs, "#000000", 11)
p.segment(x0=[bar_x[i] for i in ups], x1=[bar_x[i] for i in ups], y0=[lo[i] for i in ups], y1=[hi[i] for i in ups],
          line_color="#5F7A80", line_width=3)
p.segment(x0=[bar_x[i] for i in downs], x1=[bar_x[i] for i in downs], y0=[lo[i] for i in downs], y1=[hi[i] for i in downs],
          line_color="#000000", line_width=3.5)
legs(ups, "#8B9A00", 8)
legs(ups, "#20A0A0", 3)
legs(downs, "#E53935", 7)
legs(ups + downs, "#FFD400", 4, "6 42")

# stops
for xs, ys, col in ((gold_x, gold_y, "#B8860B"), (peri_x, peri_y, "#7B7FCF")):
    p.multi_line(xs=xs, ys=ys, line_color=col, line_width=1, line_alpha=0.75)
    p.scatter(x=[v for r in xs for v in r], y=[v for r in ys for v in r], size=6, color=col)
    fx0, fx1, fy = [], [], []
    for rx, ry in zip(xs, ys):
        for i in range(len(rx) - 1):
            if ry[i] == ry[i + 1]:
                fx0.append(rx[i]); fx1.append(rx[i + 1]); fy.append(ry[i])
    p.segment(x0=fx0, x1=fx1, y0=fy, y1=fy, line_color=col, line_width=6, line_cap="round")

p.multi_line(xs=vwap_x, ys=vwap_y, line_color=vwap_color, line_width=2)
p.scatter(x=sell_x, y=sell_y, marker="inverted_triangle", size=15, color="#B8860B")
p.scatter(x=buy_x, y=buy_y, marker="triangle", size=15, color="#7B7FCF")
p.text(x=alert_red_x, y=alert_red_y, text=["A"] * len(alert_red_x), text_color="#DC143C", text_font=value(SANS),
       text_font_size="18px", text_font_style="bold", text_align="center", text_baseline="middle")
p.text(x=alert_green_x, y=alert_green_y, text=["A"] * len(alert_green_x), text_color="#32CD32", text_font=value(SANS),
       text_font_size="18px", text_font_style="bold", text_align="center", text_baseline="middle")
p.text(x=[974] * len(stacked_fib), y=[6657.0] * len(stacked_fib), text=stacked_fib, text_color="#000000",
       text_font=value(SANS), text_font_size="21px", text_align="left", text_baseline="middle")

# black boxes on top of bars
p.quad(left=[b[0] for b in black_boxes], right=[b[1] for b in black_boxes],
       top=[b[2] for b in black_boxes], bottom=[b[3] for b in black_boxes],
       fill_color=None, line_color="#000000", line_width=4)

# events
p.quad(left=[e[1] for e in events], right=[e[2] for e in events], top=[e[3] for e in events], bottom=[e[4] for e in events],
       fill_color="#FFFF00", line_color="#D2512A", line_width=2)
p.text(x=[(e[1] + e[2]) / 2 for e in events], y=[(e[3] + e[4]) / 2 for e in events], text=[e[0] for e in events],
       text_color="#000000", text_font=value(SANS), text_font_size="14px", text_align="center", text_baseline="middle")

# dark notes
p.quad(left=[e[1] for e in dark_notes], right=[e[2] for e in dark_notes], top=[e[3] for e in dark_notes], bottom=[e[4] for e in dark_notes],
       fill_color=INK, line_color=None)
for note in dark_notes:
    tx = (note[1] + note[2]) / 2 if note[5] == "center" else note[2] - 1
    p.text(x=[tx], y=[(note[3] + note[4]) / 2], text=[note[0]], text_color="#FFFFFF", text_font=value(SANS),
           text_font_size="13.5px", text_align=note[5], text_baseline="middle")

p.scatter(x=[3139], y=[6705.2], size=3, color="#FF0000")
p.text(x=[3146], y=[6710.8], text=["1282"], text_color=INK, text_font=value(SANS), text_font_size="18px",
       text_align="left", text_baseline="middle")

# dotted last-price line
p.segment(x0=[0], x1=[Y_AXIS_AT - 6], y0=[last_price_dotted], y1=[last_price_dotted],
          line_color="#B8860B", line_width=3, line_dash="3 3")


def label(text, x, y, size, color=INK, font=SANS, style="normal", align="left", **kw):
    p.add_layout(Label(x=x, y=y, text=text, text_font=font, text_font_size=size, text_color=color,
                       text_font_style=style, text_align=align, text_baseline="middle", **kw))


for txt, yy in title_lines:
    label(txt, 9, yy, "25px", "#000000", SERIF, "bold")
for txt, xx in day_labels:
    label(txt, xx, 6641.5, "17px", "#268BD2")
label("y", 2008, 6638.8, "17px", "#268BD2")
label("14-Nov-2025 Reminders", 9, 6641.5, "11px", "#F5A623")
label("ama-MovAvg Cross 21n 0 lag TEMA & HATEMA, ama LinReg Band 13n, & 21n, ama-Super Trend U Stop 13n LinReg offset 21n ATR @ 1.0, anaVWAP Reg Session, Volume Detector",
      7, 6639.3, "24.7px", "#000000", SERIF, "bold")
label("© 2025 NinjaTrader, LLC", 4, 6637.2, "19px", INK)
label("ATR: 27", 3655, 6637.9, "20px", INK)
label("ES 12-25 ES 12-25 6000 Tick", 4, 6628.9, "9px", "#657B83")
label("NINJATRADER", 3705, 6628.9, "14px", "#E8401C", SANS, "bold")
label("←", 3715, 6916.8, "24px", "#5F7C8A", "DejaVu Sans", align="center")

# F button
p.quad(left=[3803], right=[3821], top=[6919.2], bottom=[6916.7], fill_color="#EEE8D5", line_color="#B3BDB7", line_width=1)
label("F", 3812, 6917.95, "14px", "#5F7C8A", align="center")

# price badges with a pointed left side
for txt, yy, top, bottom, bg, fg in price_badges:
    p.patch(x=[3733, 3738, 3822, 3822, 3738], y=[yy, top, top, bottom, bottom], fill_color=bg, line_color="#A8AEA6", line_width=1)
    label(txt, 3745, yy, "19px", fg)

open("out.html", "w").write(file_html(p, INLINE))
